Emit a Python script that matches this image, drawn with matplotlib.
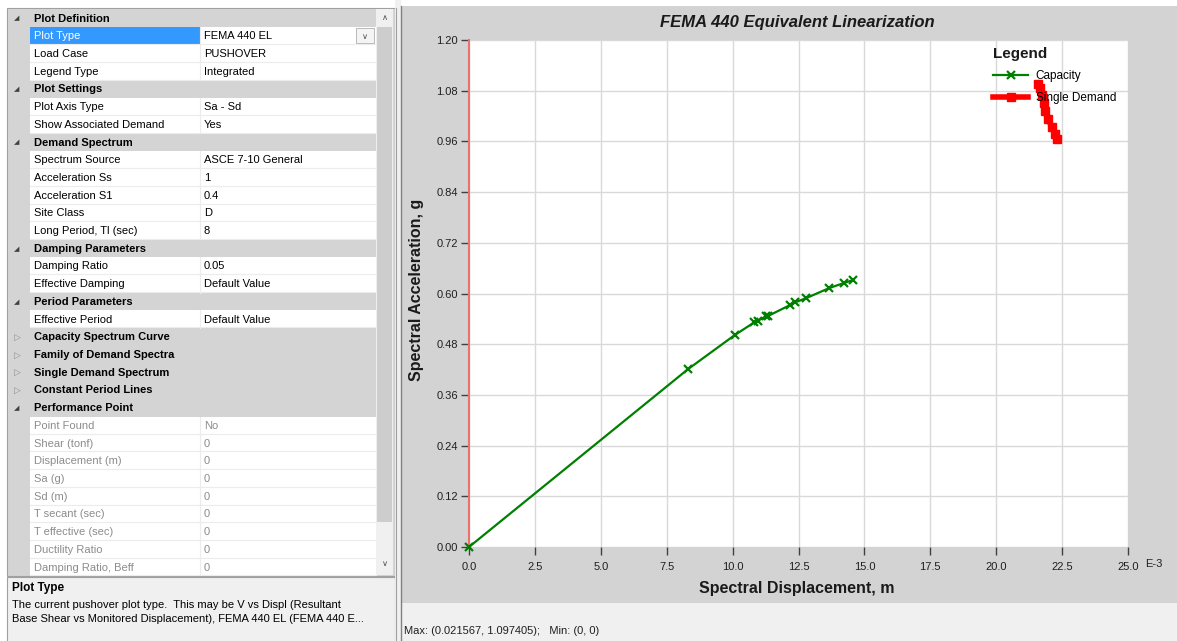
import matplotlib.pyplot as plt
from matplotlib.patches import Rectangle

plt.rcParams['font.family'] = ['Liberation Sans', 'DejaVu Sans']

W, H = 1177, 641

# capacity curve, Sd (E-3 m) vs Sa (g)
cap_sd = [0.0, 8.31, 10.09, 10.83, 10.98, 11.26, 11.35, 12.19, 12.37, 12.79, 13.67, 14.23, 14.57]
cap_sa = [0.0, 0.421, 0.502, 0.532, 0.536, 0.546, 0.547, 0.573, 0.579, 0.589, 0.613, 0.625, 0.632]

# single demand spectrum
dem_sd = [21.567, 21.68, 21.75, 21.80, 21.86, 21.98, 22.10, 22.22, 22.31]
dem_sa = [1.097, 1.086, 1.071, 1.052, 1.032, 1.013, 0.994, 0.978, 0.966]

x_ticks = [0.0, 2.5, 5.0, 7.5, 10.0, 12.5, 15.0, 17.5, 20.0, 22.5, 25.0]
x_labels = ['0.0', '2.5', '5.0', '7.5', '10.0', '12.5', '15.0', '17.5', '20.0', '22.5', '25.0']
y_ticks = [0.0, 0.12, 0.24, 0.36, 0.48, 0.60, 0.72, 0.84, 0.96, 1.08, 1.20]
y_labels = ['0.00', '0.12', '0.24', '0.36', '0.48', '0.60', '0.72', '0.84', '0.96', '1.08', '1.20']

# property grid: kind (c = category open, k = category closed, p = property, d = disabled)
grid_kind = ['c', 'p', 'p', 'p', 'c', 'p', 'p', 'c', 'p', 'p', 'p', 'p', 'p',
             'c', 'p', 'p', 'c', 'p', 'k', 'k', 'k', 'k', 'c',
             'd', 'd', 'd', 'd', 'd', 'd', 'd', 'd', 'd']
grid_name = ['Plot Definition', 'Plot Type', 'Load Case', 'Legend Type',
             'Plot Settings', 'Plot Axis Type', 'Show Associated Demand',
             'Demand Spectrum', 'Spectrum Source', 'Acceleration Ss', 'Acceleration S1',
             'Site Class', 'Long Period, Tl (sec)',
             'Damping Parameters', 'Damping Ratio', 'Effective Damping',
             'Period Parameters', 'Effective Period',
             'Capacity Spectrum Curve', 'Family of Demand Spectra',
             'Single Demand Spectrum', 'Constant Period Lines',
             'Performance Point', 'Point Found', 'Shear (tonf)', 'Displacement (m)',
             'Sa (g)', 'Sd (m)', 'T secant (sec)', 'T effective (sec)',
             'Ductility Ratio', 'Damping Ratio, Beff']
grid_value = ['', 'FEMA 440 EL', 'PUSHOVER', 'Integrated',
              '', 'Sa - Sd', 'Yes',
              '', 'ASCE 7-10 General', '1', '0.4', 'D', '8',
              '', '0.05', 'Default Value',
              '', 'Default Value',
              '', '', '', '',
              '', 'No', '0', '0', '0', '0', '0', '0', '0', '0']

fig = plt.figure(figsize=(W / 100, H / 100), dpi=100)
fig.patch.set_facecolor('white')

bg = fig.add_axes([0, 0, 1, 1])
bg.set_xlim(0, W)
bg.set_ylim(H, 0)
bg.axis('off')

CAT = '#d4d4d4'
fs = 8

# left panel
bg.add_patch(Rectangle((7, 8), 388, 568, fc=CAT, ec='#a0a0a0', lw=0.8))
clip = Rectangle((7, 8), 370, 566, transform=bg.transData)
top0, rh = 9.2, 17.71
for i, (k, n, v) in enumerate(zip(grid_kind, grid_name, grid_value)):
    y0 = top0 + i * rh
    yc = y0 + rh / 2 + 0.5
    h = min(rh, 575 - y0)
    if k in ('c', 'k'):
        bg.add_patch(Rectangle((8, y0), 368, h, fc=CAT, ec='none'))
        if k == 'c':
            bg.text(17, yc, '\u25e2', fontsize=5, color='#404040', ha='center', va='center',
                    family='DejaVu Sans')
        else:
            bg.text(17, yc, '\u25b7', fontsize=6.5, color='#909090', ha='center', va='center',
                    family='DejaVu Sans')
        t = bg.text(34, yc, n, fontsize=fs, weight='bold', va='center', color='black')
    else:
        bg.add_patch(Rectangle((30, y0), 346, h, fc='white', ec='none'))
        bg.plot([30, 376], [y0 + rh - 0.5, y0 + rh - 0.5], color='#ececec', lw=0.8)
        bg.plot([200, 200], [y0, y0 + h], color='#ececec', lw=0.8)
        col = '#8c8c8c' if k == 'd' else 'black'
        if n == 'Plot Type':
            bg.add_patch(Rectangle((30, y0 + 0.5), 170, rh - 1.5, fc='#3399ff', ec='none'))
            t = bg.text(34, yc, n, fontsize=fs, va='center', color='white')
            bg.add_patch(Rectangle((356, y0 + 1.5), 18, rh - 3.5, fc='#f4f4f4', ec='#b0b0b0', lw=0.6))
            bg.text(365, yc, '\u2228', fontsize=6, ha='center', va='center', color='#505050',
                    family='DejaVu Sans')
        else:
            t = bg.text(34, yc, n, fontsize=fs, va='center', color=col)
        t2 = bg.text(204, yc, v, fontsize=fs, va='center', color=col)
        t2.set_clip_path(clip)
    t.set_clip_path(clip)

# scrollbar
bg.add_patch(Rectangle((376, 9), 17, 566, fc='#f0f0f0', ec='none'))
bg.add_patch(Rectangle((377, 27), 15, 495, fc='#cdcdcd', ec='none'))
bg.text(384.5, 17, '\u2227', fontsize=6, ha='center', va='center', color='#505050', family='DejaVu Sans')
bg.text(384.5, 564, '\u2228', fontsize=6, ha='center', va='center', color='#505050', family='DejaVu Sans')

# description box
bg.add_patch(Rectangle((7, 577), 388, 66, fc='#f0f0f0', ec='#a0a0a0', lw=0.8))
bg.text(12, 588, 'Plot Type', fontsize=fs + 0.5, weight='bold', va='center')
bg.text(12, 605, 'The current pushover plot type.  This may be V vs Displ (Resultant',
        fontsize=fs, va='center')
bg.text(12, 619, 'Base Shear vs Monitored Displacement), FEMA 440 EL (FEMA 440 E...',
        fontsize=fs, va='center')

# splitter + chart panel
bg.add_patch(Rectangle((395, 0), 6, H, fc='#f0f0f0', ec='none'))
bg.plot([396, 396], [8, H], color='#a0a0a0', lw=0.8)
bg.add_patch(Rectangle((401, 6), W - 401, 597, fc='#d3d3d3', ec='none'))
bg.plot([401, 401], [6, H], color='#808080', lw=1)
bg.add_patch(Rectangle((402, 603), W - 402, 38, fc='#f0f0f0', ec='none'))
bg.text(404, 631, 'Max: (0.021567, 1.097405);   Min: (0, 0)', fontsize=fs, va='center',
        color='#202020')

bg.text(797, 22, 'FEMA 440 Equivalent Linearization', fontsize=12, weight='bold',
        style='italic', ha='center', va='center', color='#1a1a1a')
bg.text(797, 588, 'Spectral Displacement, m', fontsize=11.5, weight='bold',
        ha='center', va='center', color='#1a1a1a')
bg.text(417, 290, 'Spectral Acceleration, g', fontsize=11.5, weight='bold',
        ha='center', va='center', rotation=90, color='#1a1a1a')
bg.text(1145, 564, 'E-3', fontsize=fs, ha='left', va='center', color='#202020')

# plot area
ax = fig.add_axes([469 / W, (H - 547) / H, (1128 - 469) / W, (547 - 40) / H])
ax.set_facecolor('white')
ax.plot(cap_sd, cap_sa, color='#008000', lw=1.6, marker='x', ms=6, mew=1.6,
        label='Capacity', clip_on=False, zorder=3)
ax.plot(dem_sd, dem_sa, color='#ff0000', lw=4, marker='s', ms=5.5,
        label='Single Demand', zorder=3)
ax.set_xlim(0, 25)
ax.set_ylim(0, 1.2)
ax.set_xticks(x_ticks)
ax.set_xticklabels(x_labels)
ax.set_yticks(y_ticks)
ax.set_yticklabels(y_labels)
ax.grid(True, color='#d9d9d9', lw=1)
ax.set_axisbelow(True)
for s in ['top', 'right', 'bottom']:
    ax.spines[s].set_visible(False)
ax.spines['left'].set_color('#f07070')
ax.spines['left'].set_linewidth(1.5)
ax.tick_params(axis='both', direction='out', length=6, width=1, color='#404040',
               labelsize=fs, labelcolor='#202020')
ax.tick_params(axis='x', pad=5)
ax.tick_params(axis='y', pad=2)

leg = ax.legend(loc='upper left', bbox_to_anchor=((993 - 469) / 659, (547 - 47) / 507),
                frameon=False, title='Legend', fontsize=fs + 0.5, handlelength=3.0,
                handletextpad=0.6, labelspacing=0.8, borderpad=0, borderaxespad=0,
                alignment='left')
leg.get_title().set_fontweight('bold')
leg.get_title().set_fontsize(11)
leg.get_title().set_color('#1a1a1a')

fig.savefig('out.png', dpi=100)
